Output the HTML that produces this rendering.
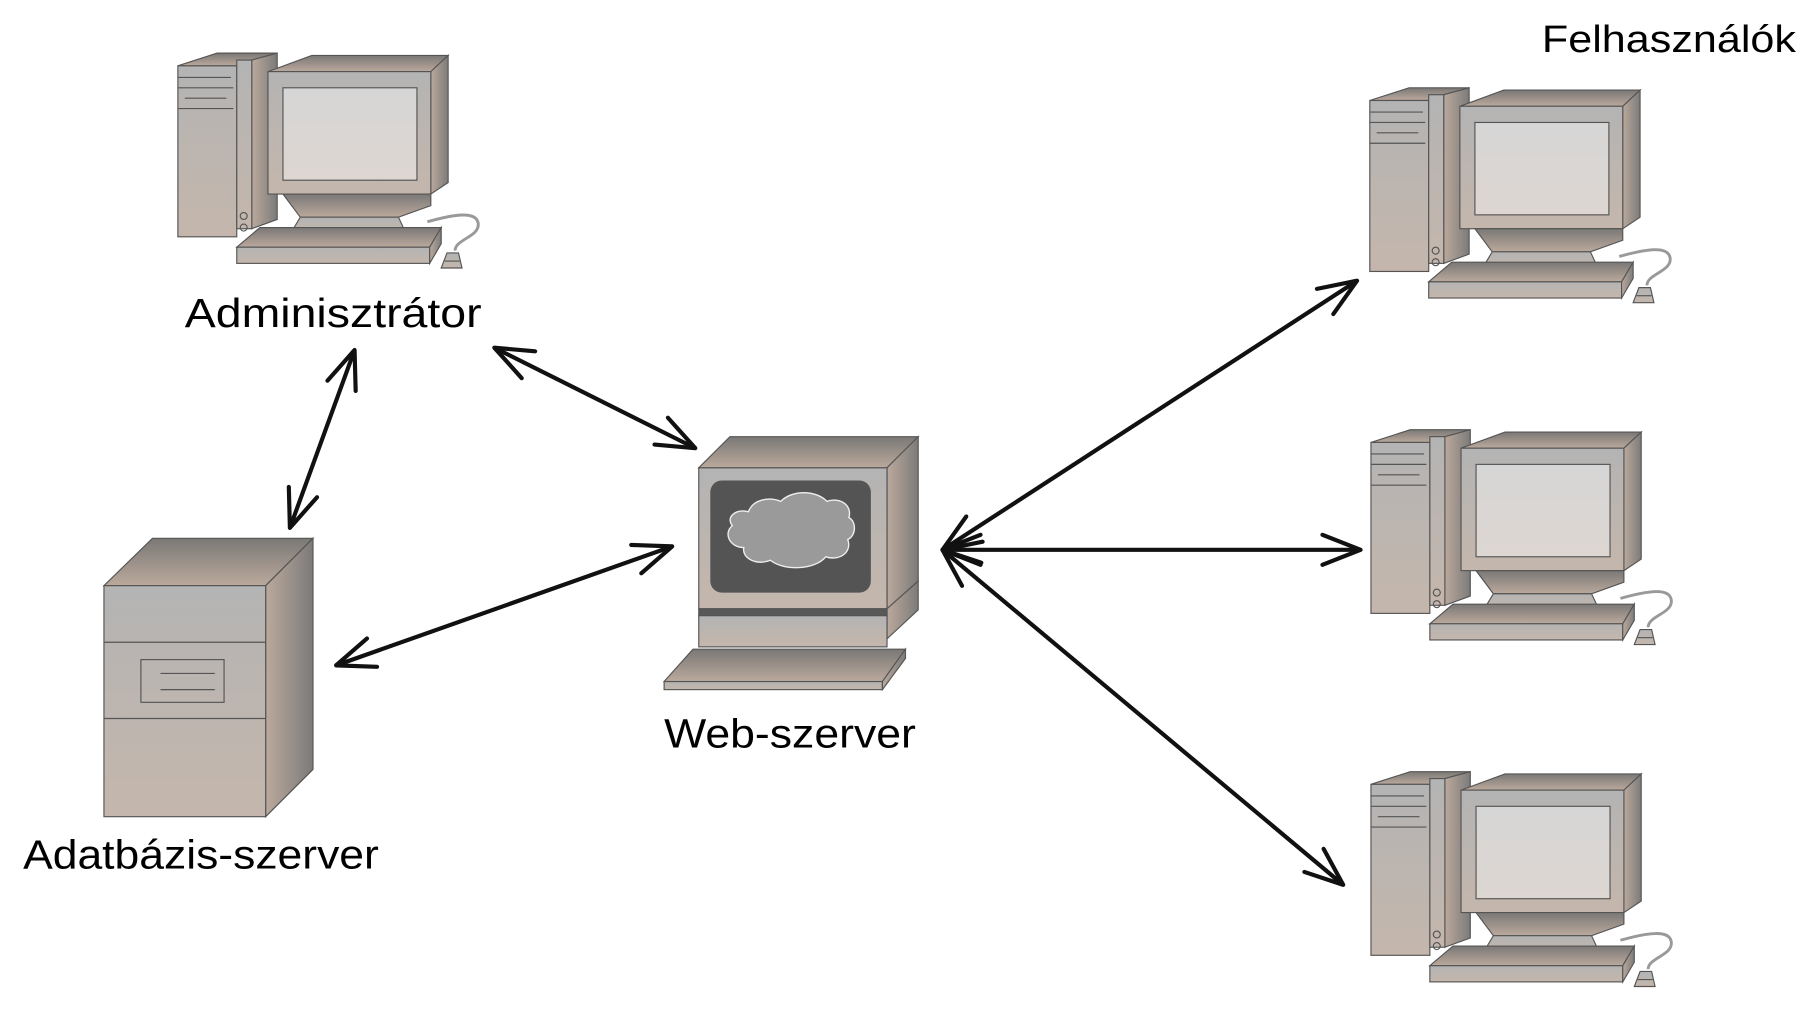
<!DOCTYPE html>
<html><head><meta charset="utf-8"><style>
html,body{margin:0;padding:0;background:#fff;}
svg{display:block;}
text{font-family:"Liberation Sans",sans-serif;fill:#000;}
</style></head><body>
<svg width="1811" height="1020" viewBox="0 0 1568 883" preserveAspectRatio="none" xmlns="http://www.w3.org/2000/svg">
<defs>
<linearGradient id="gf" x1="0" y1="0" x2="0" y2="1"><stop offset="0" stop-color="#b4b4b4"/><stop offset="1" stop-color="#c4b6ac"/></linearGradient>
<linearGradient id="gt" x1="0" y1="0" x2="0" y2="1"><stop offset="0" stop-color="#7a7876"/><stop offset="1" stop-color="#bba99c"/></linearGradient>
<linearGradient id="gs" x1="0" y1="0" x2="1" y2="0"><stop offset="0" stop-color="#bba99c"/><stop offset="1" stop-color="#7c7b7a"/></linearGradient>
<linearGradient id="gscr" x1="0" y1="0" x2="0" y2="1"><stop offset="0" stop-color="#d6d6d6"/><stop offset="1" stop-color="#ddd6d1"/></linearGradient>
<marker id="ah" viewBox="0 0 12 12" refX="11" refY="6" markerWidth="12" markerHeight="12" markerUnits="userSpaceOnUse" orient="auto-start-reverse" overflow="visible">
<path d="M-22,-7 L11,6 L-22,19" fill="none" stroke="#111" stroke-width="3.6" stroke-linejoin="round" stroke-linecap="round"/>
</marker>
<g id="pc" stroke="#555" stroke-width="1">
<polygon points="4,12 38,1 90,1 68,7 55,12" fill="url(#gt)"/>
<polygon points="68,7 90,1 90,145 68,153" fill="url(#gs)"/>
<rect x="4" y="12" width="51" height="148" fill="url(#gf)"/>
<rect x="55" y="7" width="13" height="146" fill="url(#gf)"/>
<line x1="4" y1="22" x2="50" y2="22"/><line x1="4" y1="31" x2="52" y2="31"/><line x1="10" y1="40" x2="46" y2="40"/><line x1="4" y1="49" x2="52" y2="49"/>
<circle cx="61" cy="142" r="3" fill="none"/><circle cx="61" cy="152" r="3" fill="none"/>
<polygon points="82,17 120,3 238,3 223,17" fill="url(#gt)"/>
<polygon points="223,17 238,3 238,113 223,123" fill="url(#gs)"/>
<rect x="82" y="17" width="141" height="106" fill="url(#gf)"/>
<rect x="95" y="31" width="116" height="80" fill="url(#gscr)"/>
<polygon points="95,123 223,123 223,133 195,143 110,143" fill="url(#gt)"/>
<polygon points="110,143 195,143 202,158 101,158" fill="url(#gf)"/>
<path d="M220,147 C245,140 262,138 264,148 C266,160 244,162 244,172" fill="none" stroke="#999" stroke-width="2.5"/>
<polygon points="55,169 75,152 232,152 222,169" fill="url(#gt)"/>
<rect x="55" y="169" width="167" height="14" fill="url(#gf)"/>
<polygon points="222,169 232,152 232,166 222,183" fill="url(#gs)"/>
<polygon points="237,174 247,174 250,187 232,187" fill="url(#gf)"/>
<line x1="235" y1="181" x2="248" y2="181"/>
</g>
</defs>

<use href="#pc" transform="translate(150,45)"/>
<use href="#pc" transform="translate(1182,75)"/>
<use href="#pc" transform="translate(1183,371)"/>
<use href="#pc" transform="translate(1183,667)"/>

<g stroke="#555" stroke-width="1">
<polygon points="90,507 132,466 271,466 230,507" fill="url(#gt)"/>
<polygon points="230,507 271,466 271,666 230,707" fill="url(#gs)"/>
<rect x="90" y="507" width="140" height="200" fill="url(#gf)"/>
<line x1="90" y1="556" x2="230" y2="556"/>
<line x1="90" y1="622" x2="230" y2="622"/>
<rect x="122" y="571" width="72" height="37" fill="none"/>
<line x1="139" y1="583" x2="186" y2="583"/><line x1="139" y1="597" x2="186" y2="597"/>
</g>

<g stroke="#555" stroke-width="1">
<polygon points="605,405 632,378 795,378 768,405" fill="url(#gt)"/>
<polygon points="768,405 795,378 795,503 768,527" fill="url(#gs)"/>
<rect x="605" y="405" width="163" height="122" fill="url(#gf)"/>
<rect x="615" y="416" width="139" height="97" rx="10" fill="#545454" stroke="none"/>
<path d="M648,443 C652,432 666,430 676,434 C686,424 706,424 716,434 C728,430 738,438 735,448 C742,452 741,464 734,467 C738,478 727,486 715,482 C705,494 678,494 667,485 C655,490 642,483 644,474 C632,474 626,462 634,455 C628,447 638,440 648,443 Z" fill="#9a9a9a" stroke="#eee" stroke-width="1.2"/>
<polygon points="768,527 795,503 795,528 768,553" fill="url(#gs)"/>
<rect x="605" y="527" width="163" height="6" fill="#585858"/>
<rect x="605" y="533" width="163" height="27" fill="url(#gf)"/>
<polygon points="575,590 600,562 784,562 764,590" fill="url(#gt)"/>
<rect x="575" y="590" width="189" height="7" fill="url(#gf)"/>
<polygon points="764,590 784,562 784,570 764,597" fill="url(#gs)"/>
</g>

<g stroke="#111" stroke-width="3.6" fill="none" marker-start="url(#ah)" marker-end="url(#ah)">
<line x1="428" y1="301" x2="602" y2="388"/>
<line x1="307" y1="303" x2="251" y2="457"/>
<line x1="291" y1="576" x2="582" y2="473"/>
<line x1="816" y1="476" x2="1175" y2="243"/>
<line x1="816" y1="476" x2="1178" y2="476"/>
<line x1="816" y1="476" x2="1163" y2="766"/>
</g>

<text x="1335" y="45" font-size="33" textLength="220" lengthAdjust="spacingAndGlyphs">Felhasználók</text>
<text x="160" y="283" font-size="35" textLength="257" lengthAdjust="spacingAndGlyphs">Adminisztrátor</text>
<text x="575" y="647" font-size="35" textLength="218" lengthAdjust="spacingAndGlyphs">Web-szerver</text>
<text x="20" y="752" font-size="35" textLength="308" lengthAdjust="spacingAndGlyphs">Adatbázis-szerver</text>
</svg>
</body></html>
